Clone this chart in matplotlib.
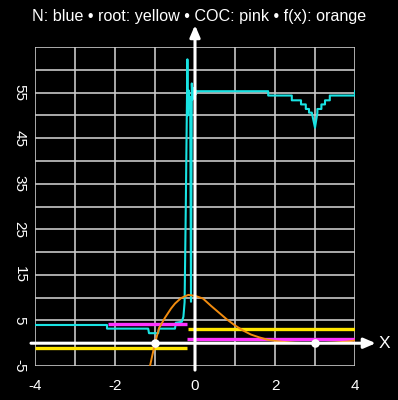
import matplotlib
matplotlib.use("Agg")
import matplotlib.pyplot as plt

BG = "#000000"
GRID = "#c8c8c8"
CYAN = "#19e3e3"
PINK = "#ff33ff"
YELLOW = "#ffe600"
ORANGE = "#f28c0f"

# N(x): iteration count style step curve (blue/cyan)
n_x = [-4.0, -2.2, -2.2, -1.17, -1.15, -0.92, -0.90, -0.50, -0.48, -0.33,
       -0.29, -0.26, -0.23, -0.19, -0.175, -0.16, -0.14, -0.12, -0.10, -0.08,
       -0.06, -0.04, -0.02, 0.0, 0.02, 0.04, 1.83, 1.83, 2.42, 2.42,
       2.65, 2.65, 2.77, 2.77, 2.85, 2.85, 2.92, 3.0, 3.06, 3.06,
       3.16, 3.16, 3.25, 3.25, 3.37, 3.37, 3.58, 3.58, 4.0, 4.0]
n_y = [4.0, 4.0, 3.2, 3.2, 2.2, 2.2, 3.2, 3.2, 4.5, 4.7,
       5.8, 9.0, 30.0, 62.3, 50.0, 55.5, 52.5, 54.0, 9.1, 57.0,
       53.5, 56.0, 53.8, 55.8, 54.6, 55.3, 55.3, 54.35, 54.35, 53.3,
       53.3, 52.4, 52.4, 51.4, 51.4, 50.6, 50.6, 47.3, 50.6, 51.4,
       51.4, 52.4, 52.4, 53.3, 53.3, 54.35, 54.35, 54.35, 54.35, 55.3]

# root found (yellow) and COC (pink) piecewise levels
root_seg = [(-4.0, -0.21, -1.0), (-0.18, 4.0, 3.1)]
coc_seg = [(-2.18, -0.19, 4.2), (-0.21, 4.0, 1.0)]

# f(x) (orange)
f_x = [-1.13, -1.0, -0.9, -0.75, -0.6, -0.5, -0.35, -0.17, 0.0, 0.2,
       0.4, 0.6, 0.8, 1.0, 1.2, 1.4, 1.6, 1.8, 2.0, 2.2,
       2.5, 2.8, 3.0, 3.2, 3.5, 3.8, 4.0]
f_y = [-5.2, 0.0, 3.3, 5.6, 7.6, 8.7, 9.9, 10.6, 10.4, 9.8,
       8.2, 6.7, 5.2, 3.9, 2.8, 1.9, 1.3, 0.8, 0.5, 0.3,
       0.1, 0.02, 0.0, 0.03, 0.15, 0.35, 0.6]

roots_x = [-1.0, 3.0]
roots_y = [0.0, 0.0]

x_labels = {-4: "-4", -2: "-2", 0: "0", 2: "2", 4: "4"}
y_labels = {-5: "-5", 5: "5", 15: "15", 25: "25", 35: "35", 45: "45", 55: "55"}

plt.rcParams["font.family"] = ["Liberation Sans", "DejaVu Sans"]

fig = plt.figure(figsize=(3.98, 4.0), dpi=100, facecolor=BG)
ax = fig.add_axes([35 / 398, 34 / 400, 320 / 398, 319 / 400])
ax.set_facecolor(BG)
ax.set_xlim(-4, 4)
ax.set_ylim(-5, 65)
for s in ax.spines.values():
    s.set_visible(False)

xt = list(range(-4, 5))
yt = list(range(-5, 66, 5))
ax.set_xticks(xt)
ax.set_xticklabels([x_labels.get(v, "") for v in xt], color="white", fontsize=11)
ax.set_yticks(yt)
ax.set_yticklabels([y_labels.get(v, "") for v in yt], color="white", fontsize=11,
                   rotation=270, va="center")
ax.tick_params(length=0, pad=9)
ax.tick_params(axis="y", pad=6)
ax.grid(True, color=GRID, linewidth=1.2)
ax.set_axisbelow(True)

# axes arrows
ax.annotate("", xy=(4.52, 0), xytext=(-4.1, 0), annotation_clip=False,
            arrowprops=dict(arrowstyle="-|>,head_length=0.7,head_width=0.3",
                            color="white", lw=2.2, shrinkA=0, shrinkB=0))
ax.annotate("", xy=(0, 69.8), xytext=(0, -5.9), annotation_clip=False,
            arrowprops=dict(arrowstyle="-|>,head_length=0.7,head_width=0.3",
                            color="white", lw=2.2, shrinkA=0, shrinkB=0))
ax.text(4.6, 0, "X", color="white", fontsize=12.5, va="center", ha="left",
        clip_on=False)

for x0, x1, y in root_seg:
    ax.plot([x0, x1], [y, y], color=YELLOW, lw=2.4, solid_capstyle="butt")
ax.plot(n_x, n_y, color=CYAN, lw=1.5)
for x0, x1, y in coc_seg:
    ax.plot([x0, x1], [y, y], color=PINK, lw=2.4, solid_capstyle="butt")
ax.plot(f_x, f_y, color=ORANGE, lw=1.4)
ax.scatter(roots_x, roots_y, s=38, color="white", zorder=5, linewidths=0)

fig.text(0.5, 0.96, "N: blue \u2022 root: yellow \u2022 COC: pink \u2022 f(x): orange",
         color="white", fontsize=11.6, ha="center", va="center")

fig.savefig("out.png", dpi=100, facecolor=BG)
